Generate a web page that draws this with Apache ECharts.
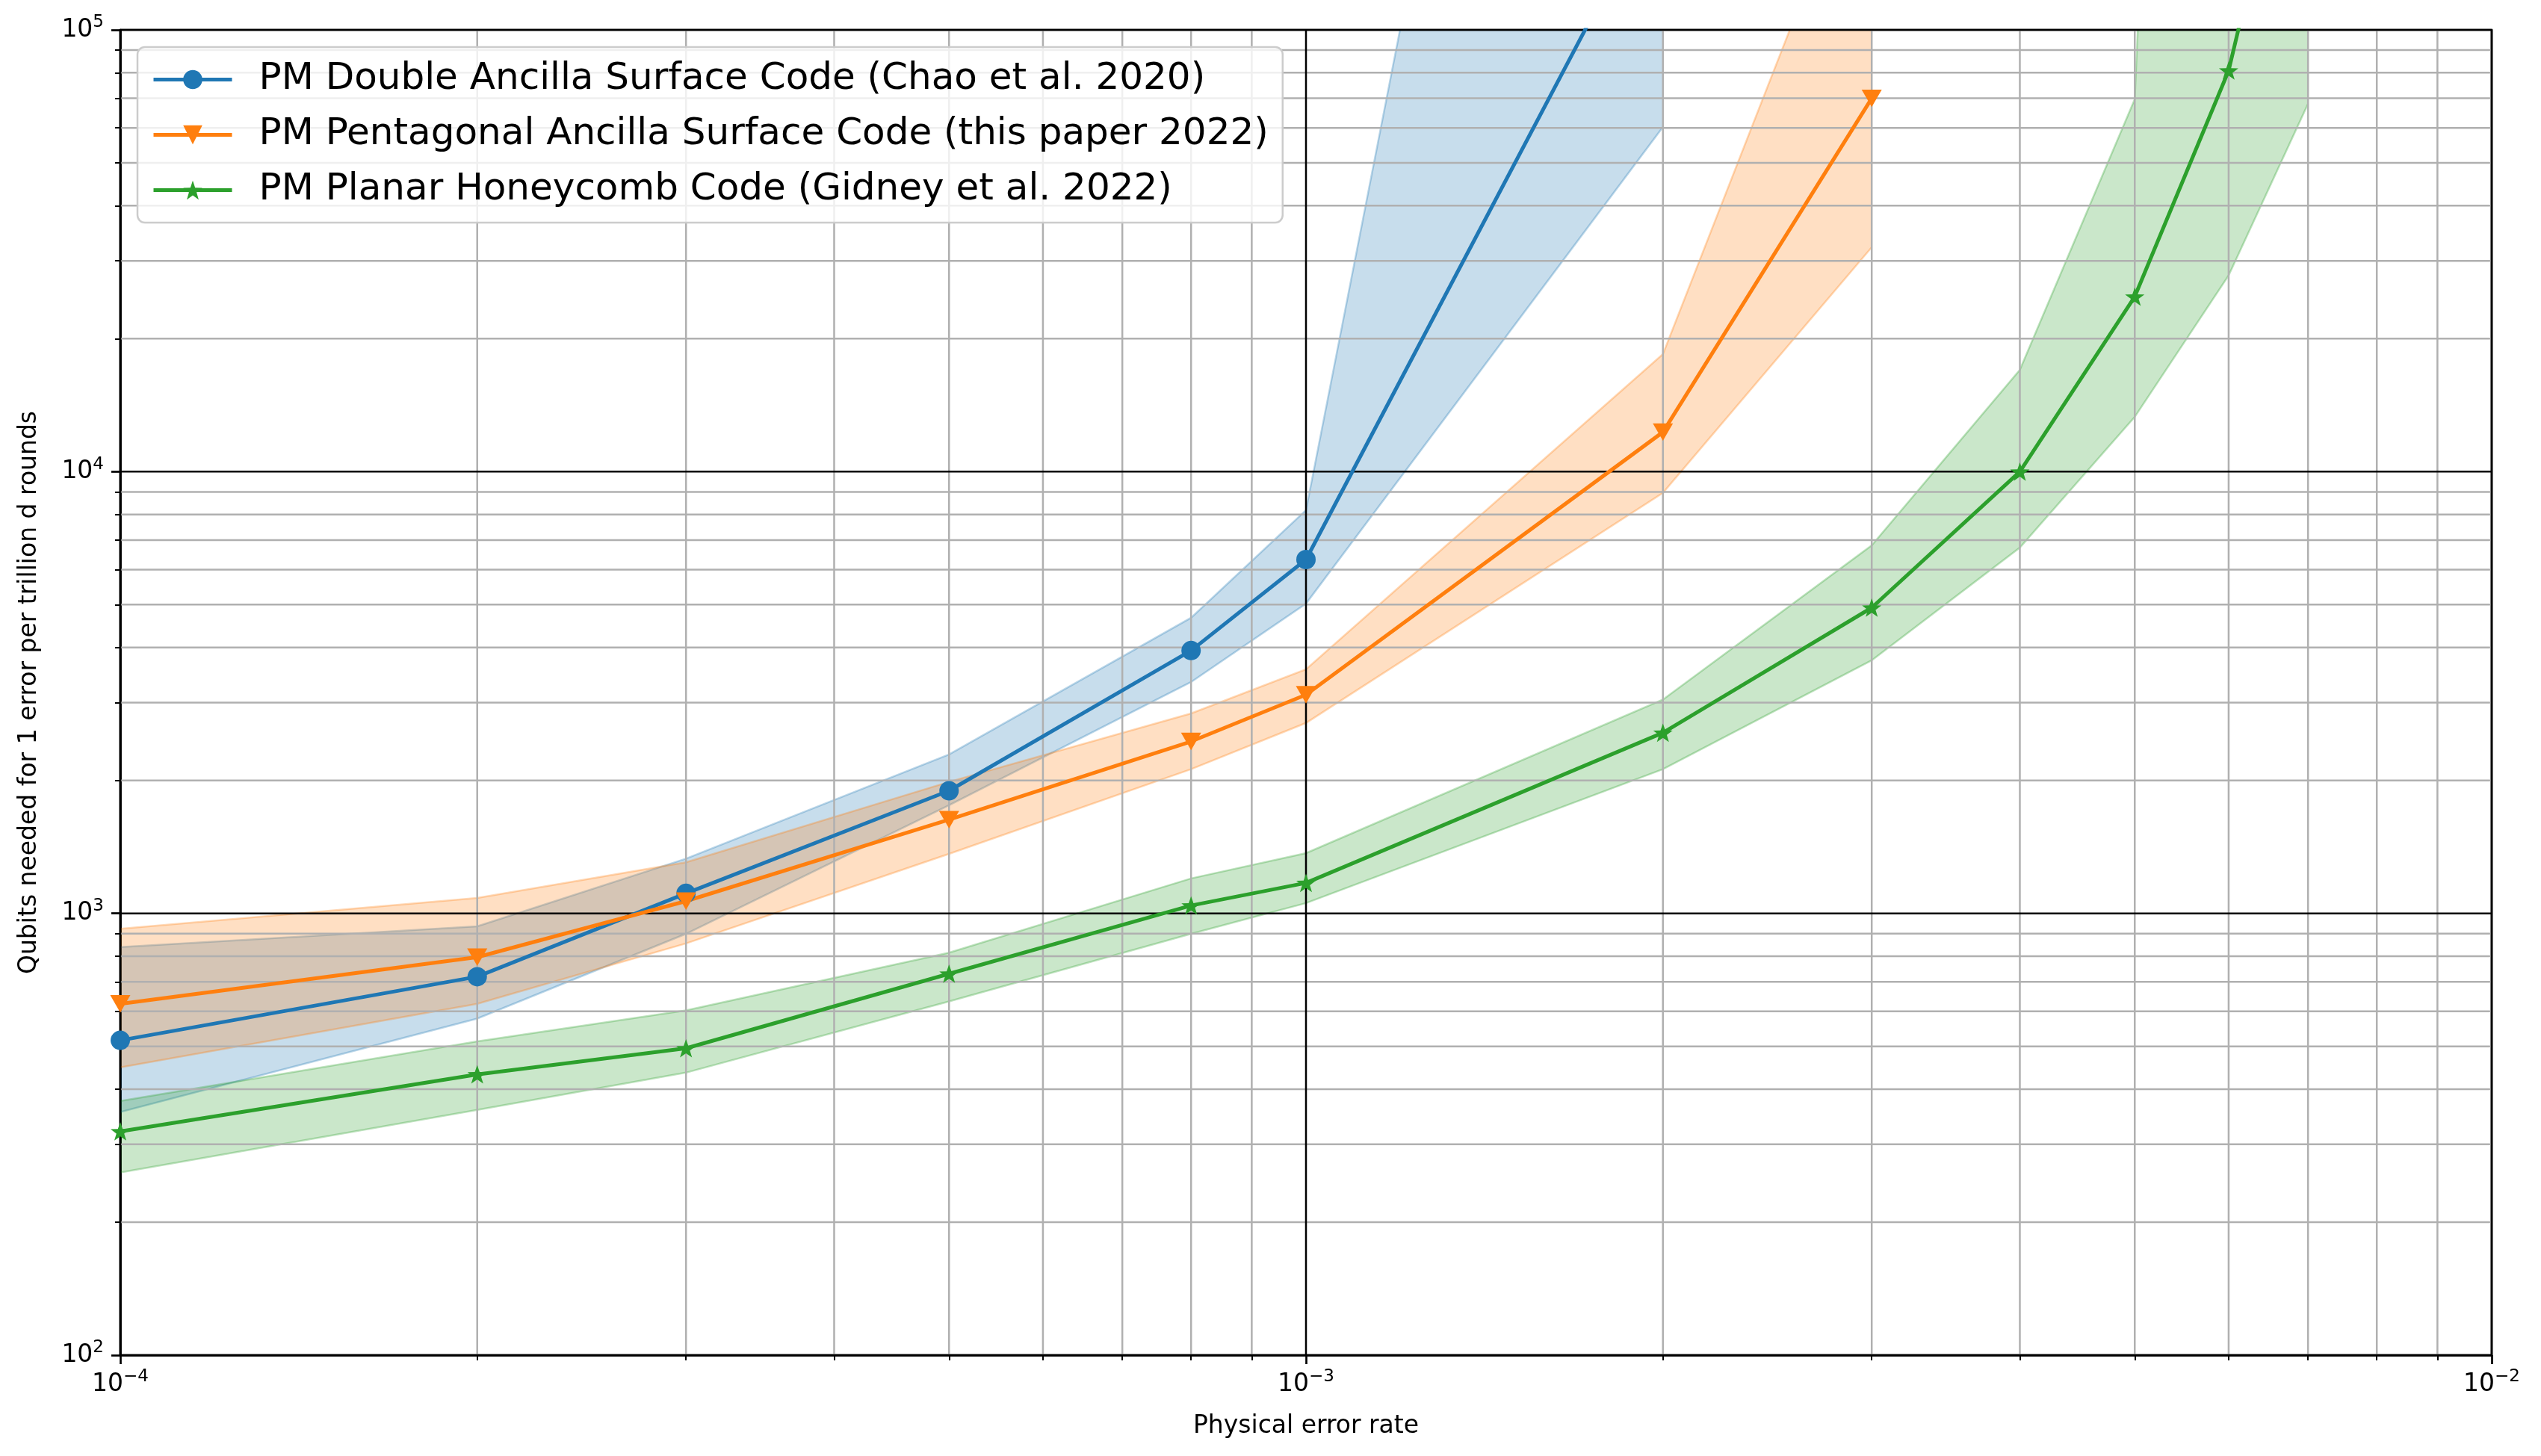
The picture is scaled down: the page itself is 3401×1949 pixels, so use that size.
<!DOCTYPE html>
<html lang="en">
<head>
<meta charset="UTF-8" />
<title>Qubits needed vs physical error rate</title>
<script src="https://cdn.jsdelivr.net/npm/echarts@6/dist/echarts.min.js"></script>
<style>
    * { margin: 0; padding: 0; }
    #main { width: 3401px; height: 1949px; background: #fff; }
</style>
</head>
<body>
<div id="main"></div>
<script>
    // PM Double Ancilla Surface Code (Chao et al. 2020)
    const pDouble = [1e-4, 2e-4, 3e-4, 5e-4, 8e-4, 1e-3, 2e-3];
    const qDouble = [516, 719, 1110, 1895, 3935, 6324, 216000];
    const qDoubleLo = [355, 578, 899, 1758, 3340, 5025, 60300];
    const qDoubleHi = [839, 935, 1330, 2290, 4670, 8180, 1.1e8];

    // PM Pentagonal Ancilla Surface Code (this paper 2022)
    const pPenta = [1e-4, 2e-4, 3e-4, 5e-4, 8e-4, 1e-3, 2e-3, 3e-3];
    const qPenta = [624, 796, 1066, 1630, 2450, 3125, 12290, 70000];
    const qPentaLo = [448, 624, 855, 1364, 2120, 2698, 8950, 32200];
    const qPentaHi = [923, 1084, 1305, 1985, 2836, 3568, 18450, 298000];

    // PM Planar Honeycomb Code (Gidney et al. 2022)
    const pHoney = [1e-4, 2e-4, 3e-4, 5e-4, 8e-4, 1e-3, 2e-3, 3e-3, 4e-3, 5e-3, 6e-3, 7e-3];
    const qHoney = [321, 432, 495, 730, 1042, 1172, 2564, 4920, 10000, 24900, 80900, 462000];
    const qHoneyLo = [259, 359, 436, 632, 899, 1055, 2120, 3740, 6730, 13300, 27800, 68000];
    const qHoneyHi = [376, 513, 603, 815, 1200, 1369, 3048, 6810, 17000, 69700, 6e9, 1e12];

    // ticks
    const xMajor = [1e-4, 1e-3, 1e-2];
    const xMinor = [2e-4, 3e-4, 4e-4, 5e-4, 6e-4, 7e-4, 8e-4, 9e-4,
        2e-3, 3e-3, 4e-3, 5e-3, 6e-3, 7e-3, 8e-3, 9e-3];
    const yMajor = [1e2, 1e3, 1e4, 1e5];
    const yMinor = [200, 300, 400, 500, 600, 700, 800, 900,
        2000, 3000, 4000, 5000, 6000, 7000, 8000, 9000,
        20000, 30000, 40000, 50000, 60000, 70000, 80000, 90000];

    const names = [
        "PM Double Ancilla Surface Code (Chao et al. 2020)",
        "PM Pentagonal Ancilla Surface Code (this paper 2022)",
        "PM Planar Honeycomb Code (Gidney et al. 2022)",
    ];

    const FONT = "DejaVu Sans";
    const STAR = "path://M0,-10L2.35,-3.24L9.51,-3.09L3.8,1.24L5.88,8.09L0,4L-5.88,8.09L-3.8,1.24L-9.51,-3.09L-2.35,-3.24Z";
    const TRI_DOWN = "path://M0,0L10,0L5,8.66Z";

    function pow10(v) {
        const e = Math.round(Math.log10(v));
        return "{b|10}{s|" + String(e).replace("-", "\u2212") + "}";
    }
    const powRich = {
        b: { fontSize: 33, fontFamily: FONT, color: "#000", lineHeight: 42 },
        s: { fontSize: 23, fontFamily: FONT, color: "#000", lineHeight: 24, verticalAlign: "top" },
    };

    function pairs(xs, ys) {
        return xs.map((x, i) => [x, ys[i]]);
    }

    // filled band between lo and hi (whole polygon drawn on the first item)
    function band(xs, lo, hi, rgb) {
        return {
            type: "custom", coordinateSystem: "cartesian2d",
            z: 1, silent: true, clip: true,
            data: xs.map((x, i) => [x, lo[i], hi[i]]),
            encode: { x: 0, y: [1, 2] },
            renderItem: function (params, api) {
                if (params.dataIndex !== 0) return;
                const top = xs.map((x, i) => api.coord([x, hi[i]]));
                const bot = xs.map((x, i) => api.coord([x, lo[i]]));
                const edge = { stroke: `rgba(${rgb},0.3)`, lineWidth: 2.5, fill: null };
                return {
                    type: "group",
                    children: [
                        { type: "polygon", shape: { points: top.concat(bot.slice().reverse()) },
                          style: { fill: `rgba(${rgb},0.25)` } },
                        { type: "polyline", shape: { points: top }, style: edge },
                        { type: "polyline", shape: { points: bot }, style: edge },
                    ],
                };
            },
        };
    }

    // grid lines, above the bands and below the curves
    const gridItems = [
        ...xMinor.map((v) => [v, 0]), ...yMinor.map((v) => [v, 1]),
        ...xMajor.map((v) => [v, 2]), ...yMajor.map((v) => [v, 3]),
    ];
    const gridSeries = {
        type: "custom", coordinateSystem: "cartesian2d", z: 2, silent: true,
        data: gridItems.map((g, i) => [1e-3, 1e3, i]),
        renderItem: function (params, api) {
            const g = gridItems[params.dataIndex];
            const v = g[0], kind = g[1];
            const vertical = kind === 0 || kind === 2;
            const a = vertical ? api.coord([v, 1e2]) : api.coord([1e-4, v]);
            const b = vertical ? api.coord([v, 1e5]) : api.coord([1e-2, v]);
            return {
                type: "line",
                shape: { x1: a[0], y1: a[1], x2: b[0], y2: b[1] },
                style: { stroke: kind < 2 ? "#b0b0b0" : "#000000", lineWidth: 2.5 },
            };
        },
    };

    function main(name, xs, ys, color, symbol, size) {
        return {
            name: name, type: "line", z: 3,
            data: pairs(xs, ys),
            symbol: symbol, symbolSize: size, symbolKeepAspect: true,
            lineStyle: { color: color, width: 5 },
            itemStyle: { color: color },
            emphasis: { disabled: true },
        };
    }

    const axisFont = { fontSize: 33, fontFamily: FONT, color: "#000" };

    var myChart = echarts.init(document.getElementById("main"));
    var option = {
        animation: false,
        backgroundColor: "#fff",
        grid: {
            left: 161, top: 40, right: 66, bottom: 135,
            show: true, borderColor: "#000", borderWidth: 2.7,
            outerBoundsMode: "none",
        },
        legend: {
            data: names,
            orient: "vertical",
            left: 184, top: 63,
            itemWidth: 105, itemHeight: 32, itemGap: 21,
            padding: [17, 19, 17, 19],
            backgroundColor: "rgba(255,255,255,0.8)",
            borderColor: "#cccccc", borderWidth: 2.5, borderRadius: 10,
            lineStyle: { width: 5 },
            textStyle: { fontSize: 50, fontFamily: FONT, color: "#000", lineHeight: 53, padding: [0, 0, 0, 31] },
        },
        xAxis: [
            {
                type: "log", logBase: 10, min: 1e-4, max: 1e-2, position: "bottom",
                name: "Physical error rate", nameLocation: "middle", nameGap: 79,
                nameTextStyle: axisFont,
                axisLine: { show: true, lineStyle: { color: "#000", width: 2.7 } },
                axisTick: { show: true, length: 12, customValues: xMajor, lineStyle: { color: "#000", width: 2.7 } },
                axisLabel: { customValues: xMajor, formatter: pow10, margin: 18, rich: powRich },
                splitLine: { show: false },
            },
            {
                type: "log", logBase: 10, min: 1e-4, max: 1e-2, position: "bottom",
                axisLine: { show: false },
                axisTick: { show: true, length: 7, customValues: xMinor, lineStyle: { color: "#000", width: 2 } },
                axisLabel: { show: false },
                splitLine: { show: false },
            },
        ],
        yAxis: [
            {
                type: "log", logBase: 10, min: 1e2, max: 1e5, position: "left",
                name: "Qubits needed for 1 error per trillion d rounds",
                nameLocation: "middle", nameGap: 105,
                nameTextStyle: axisFont,
                axisLine: { show: true, lineStyle: { color: "#000", width: 2.7 } },
                axisTick: { show: true, length: 12, customValues: yMajor, lineStyle: { color: "#000", width: 2.7 } },
                axisLabel: { customValues: yMajor, formatter: pow10, margin: 22, rich: powRich },
                splitLine: { show: false },
            },
            {
                type: "log", logBase: 10, min: 1e2, max: 1e5, position: "left",
                axisLine: { show: false },
                axisTick: { show: true, length: 7, customValues: yMinor, lineStyle: { color: "#000", width: 2 } },
                axisLabel: { show: false },
                splitLine: { show: false },
            },
        ],
        series: [
            band(pDouble, qDoubleLo, qDoubleHi, "31,119,180"),
            band(pPenta, qPentaLo, qPentaHi, "255,127,14"),
            band(pHoney, qHoneyLo, qHoneyHi, "44,160,44"),
            gridSeries,
            main(names[0], pDouble, qDouble, "#1f77b4", "circle", 26),
            main(names[1], pPenta, qPenta, "#ff7f0e", TRI_DOWN, 27),
            main(names[2], pHoney, qHoney, "#2ca02c", STAR, 26),
        ],
    };
    option && myChart.setOption(option);
</script>
</body>
</html>
